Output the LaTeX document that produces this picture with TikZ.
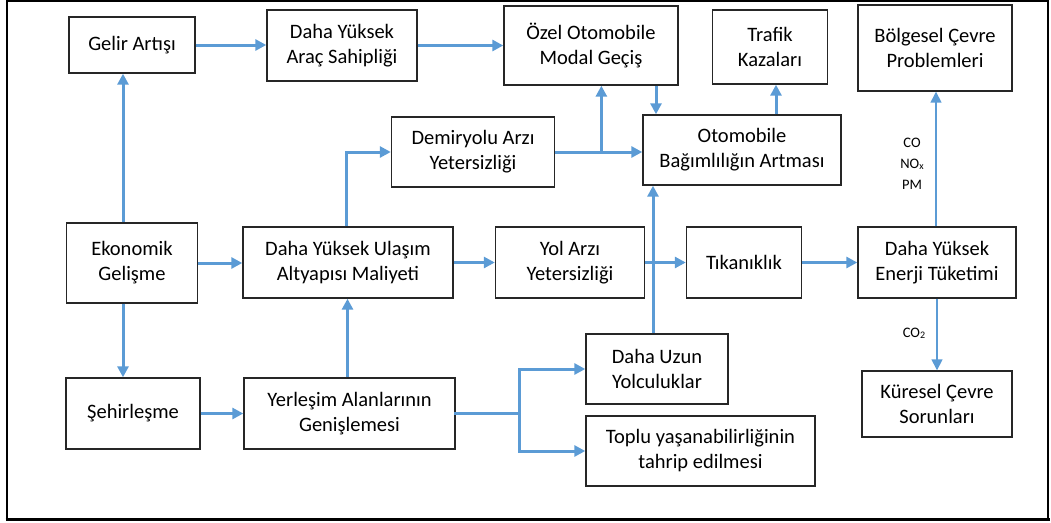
\documentclass[tikz,border=0pt]{standalone}
\usepackage{fontspec}
\setmainfont{Carlito}
\usetikzlibrary{arrows.meta,calc}
\definecolor{lineblue}{RGB}{91,155,213}
\definecolor{boxgray}{RGB}{38,38,38}
\newcommand{\lowsub}[1]{\raisebox{-1pt}{\fontsize{10}{10}\selectfont #1}}
\begin{document}
\begin{tikzpicture}[x=1pt,y=-1pt,
  box/.style={draw=boxgray, line width=1.4pt, align=center, inner sep=0pt,
    font=\fontsize{20.5}{25}\selectfont},
  arr/.style={draw=lineblue, line width=3pt,
    -{Triangle[length=11pt,width=11pt]}},
  thinarr/.style={draw=lineblue, line width=1.5pt,
    -{Triangle[length=11pt,width=11pt]}},
  link/.style={draw=lineblue, line width=3pt, line cap=rect},
  tag/.style={align=center, inner sep=0pt}]
\useasboundingbox (0,0) rectangle (1051,522);
% outer frame
\draw[black, line width=1.5pt] (7,1) rectangle (1048,519);
\draw[black, line width=3.5pt] (5.5,519.5) -- (1049.5,519.5);

% boxes
\node[box, minimum width=126pt, minimum height=56pt] (gelir) at (132,45) {Gelir Artışı};
\node[box, minimum width=150pt, minimum height=71pt] (arac) at (342,45.5) {Daha Yüksek\\Araç Sahipliği};
\node[box, minimum width=174pt, minimum height=79pt] (ozel) at (591,45.5) {Özel Otomobile\\Modal Geçiş};
\node[box, minimum width=115pt, minimum height=74pt] (trafik) at (770,47) {Trafik\\Kazaları};
\node[box, minimum width=154pt, minimum height=86pt] (bolge) at (935,48) {Bölgesel Çevre\\Problemleri};
\node[box, minimum width=163pt, minimum height=70pt] (demir) at (473,152) {Demiryolu Arzı\\Yetersizliği};
\node[box, minimum width=198pt, minimum height=70pt] (oto) at (742,150) {Otomobile\\Bağımlılığın Artması};
\node[box, minimum width=131pt, minimum height=80pt] (eko) at (132,263) {Ekonomik\\Gelişme};
\node[box, minimum width=210pt, minimum height=71pt] (ulasim) at (348,262.5) {Daha Yüksek Ulaşım\\Altyapısı Maliyeti};
\node[box, minimum width=149pt, minimum height=71pt] (yol) at (570,262.5) {Yol Arzı\\Yetersizliği};
\node[box, minimum width=115pt, minimum height=71pt] (tik) at (744,262.5) {Tıkanıklık};
\node[box, minimum width=158pt, minimum height=71pt] (enerji) at (937,262.5) {Daha Yüksek\\Enerji Tüketimi};
\node[box, minimum width=134pt, minimum height=71pt] (sehir) at (133,413.5) {Şehirleşme};
\node[box, minimum width=211pt, minimum height=71pt] (yerlesim) at (349.5,413.5) {Yerleşim Alanlarının\\Genişlemesi};
\node[box, minimum width=142pt, minimum height=70pt] (uzun) at (657,369) {Daha Uzun\\Yolculuklar};
\node[box, minimum width=229pt, minimum height=70pt] (toplu) at (700.5,451) {Toplu yaşanabilirliğinin\\tahrip edilmesi};
\node[box, minimum width=150pt, minimum height=66pt] (kuresel) at (937,404) {Küresel Çevre\\Sorunları};

% emission labels
\node[tag, font=\fontsize{14.5}{21}\selectfont] (poll) at (912,164) {CO\\NO\lowsub{x}\\PM};
\node[tag, font=\fontsize{14.5}{16}\selectfont] (co2) at (914,333) {CO\lowsub{2}};

% junction points
\coordinate (rail) at ($(demir.east)!0.53!(demir.east -| oto.west)$);
\coordinate (split) at (yerlesim.east -| 519,0);

% connectors
\draw[arr] ([xshift=-9pt]eko.north) -- ([xshift=-9pt]gelir.south);
\draw[arr] (gelir.east) -- (gelir.east -| arac.west);
\draw[arr] (arac.east) -- (arac.east -| ozel.west);
\draw[arr] (eko.east) -- (eko.east -| ulasim.west);
\draw[arr] ([xshift=-9pt]eko.south) -- ([xshift=-9pt]eko.south |- sehir.north);
\draw[arr] (sehir.east) -- (sehir.east -| yerlesim.west);
\draw[arr] ([xshift=-2pt]yerlesim.north) -- ([xshift=-2pt]yerlesim.north |- ulasim.south);
\draw[arr] ([xshift=-2pt]ulasim.north) |- (demir.west);
\draw[arr] (ulasim.east) -- (ulasim.east -| yol.west);
\draw[arr] (yol.east) -- (yol.east -| tik.west);
\draw[arr] (tik.east) -- (tik.east -| enerji.west);
\draw[arr] (demir.east) -- (demir.east -| oto.west);
\draw[arr] (rail) -- (rail |- ozel.south);
\draw[arr] ([xshift=-86pt]oto.north |- ozel.south) -- ([xshift=-86pt]oto.north);
\draw[arr] ([xshift=34pt]oto.north) -- ([xshift=34pt]oto.north |- trafik.south);
\draw[arr] ([xshift=-4pt]uzun.north) -- ([xshift=-4pt]uzun.north |- oto.south);
\draw[link] (yerlesim.east) -- (split);
\draw[link] (split |- uzun.west) -- (split |- toplu.west);
\draw[arr] (split |- uzun.west) -- (uzun.west);
\draw[arr] (split |- toplu.west) -- (toplu.west);
\draw[thinarr] ([xshift=-1pt]enerji.north) -- ([xshift=-1pt]enerji.north |- bolge.south);
\draw[thinarr] (enerji.south) -- (enerji.south |- kuresel.north);
\end{tikzpicture}
\end{document}
